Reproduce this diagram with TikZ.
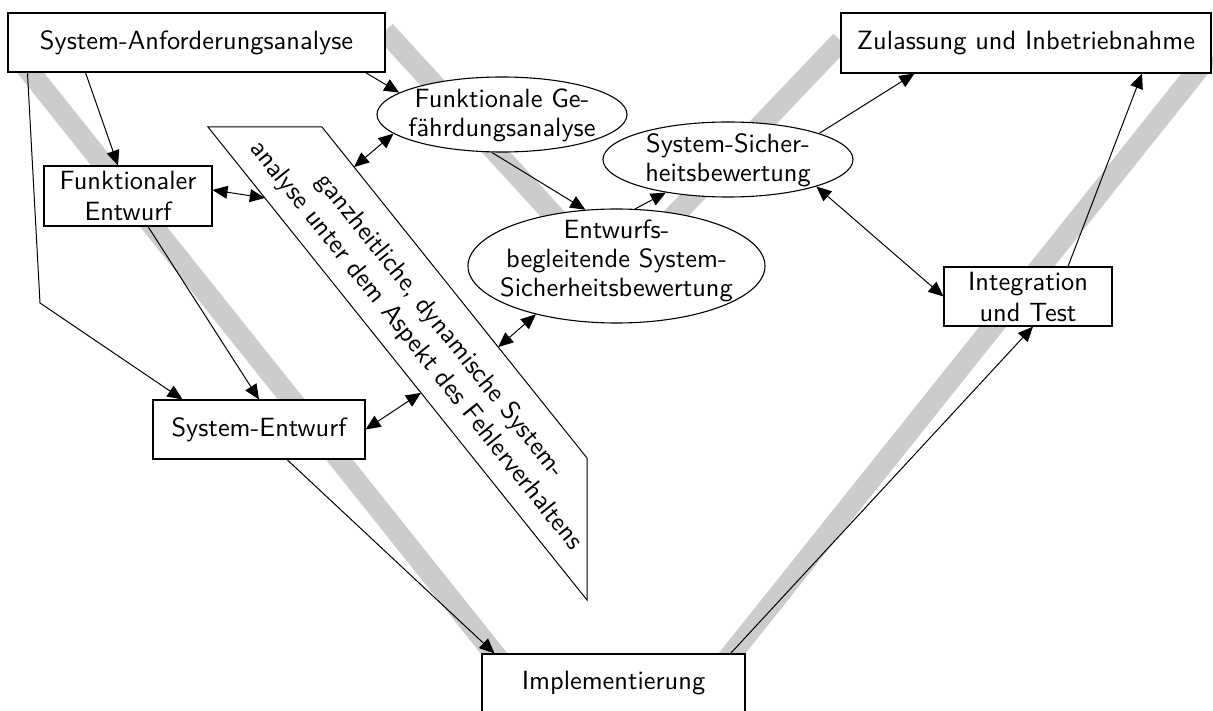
\documentclass[tikz,border=0pt]{standalone}
\usepackage{fontspec}
\usetikzlibrary{arrows.meta,shapes.geometric,calc}
% Latin Modern Sans at its 10pt design size, scaled up
\newfontfamily\lmsten{lmsans10-regular.otf}
\newcommand\dfont{\lmsten\fontsize{26.4}{31}\selectfont}
\newcommand\efont{\lmsten\fontsize{26.4}{29}\selectfont}
\begin{document}
\begin{tikzpicture}[x=1pt,y=-1pt,
  box/.style={draw, line width=1.1pt, fill=white, inner sep=0pt, align=center, font=\dfont},
  oval/.style={ellipse, draw, line width=1.1pt, fill=white, inner sep=0pt},
  dtext/.style={inner sep=0pt, align=center, font=\dfont},
  etext/.style={inner sep=0pt, align=center, font=\efont},
  band/.style={line width=21pt, draw=black!20},
  conn/.style={line width=1pt, -{Triangle[length=15pt,width=13pt]}},
  both/.style={line width=1pt, {Triangle[length=15pt,width=13pt]}-{Triangle[length=15pt,width=13pt]}}]
\useasboundingbox (0,0) rectangle (1213,711);
\clip (0,0) rectangle (1213,711);

% the two grey V-shaped process bands
\draw[band] (16.4,55) -- (613,802.5) -- (1209.6,55);
\draw[band] (385,31) -- (613,280) -- (841,41);

% slanted analysis panel
\coordinate (pA) at (208,127);
\coordinate (pB) at (322,127);
\coordinate (pC) at (587,458);
\coordinate (pD) at (587,600);
\draw[line width=1pt, fill=white] (pA) -- (pB) -- (pC) -- (pD) -- cycle;
\node[dtext, rotate=-51.3] (ptext) at (428,336)
  {ganzheitliche, dynamische System-\\analyse unter dem Aspekt des Fehlerverhaltens};
\coordinate (pfe) at ($(pA)!0.150!(pD)$);
\coordinate (pse) at ($(pA)!0.562!(pD)$);
\coordinate (pfg) at ($(pB)!0.121!(pC)$);
\coordinate (peb) at ($(pB)!0.665!(pC)$);

% process steps
\node[box, minimum width=377pt, minimum height=59pt] (sa) at (196.5,42.5) {System-Anforderungsanalyse};
\node[box, minimum width=168pt, minimum height=60pt] (fe) at (128,196) {Funktionaler\\Entwurf};
\node[box, minimum width=212pt, minimum height=59pt] (se) at (259,429.5) {System-Entwurf};
\node[box, minimum width=263pt, minimum height=59pt] (im) at (613.5,683.5) {Implementierung};
\node[box, minimum width=370pt, minimum height=60pt] (zu) at (1026,43) {Zulassung und Inbetriebnahme};
\node[box, minimum width=168pt, minimum height=59pt] (it) at (1028,296.5) {Integration\\und Test};

% safety activities
\node[oval, minimum width=250pt, minimum height=75pt] (fg) at (502,114.5) {};
\node[etext] (fgt) at (502,115) {Funktionale Ge-\\fährdungsanalyse};
\node[oval, minimum width=250pt, minimum height=75pt] (ss) at (728,159.5) {};
\node[etext] (sst) at (728,160) {System-Sicher-\\heitsbewertung};
\node[oval, minimum width=297pt, minimum height=114pt] (eb) at (616.5,266) {};
\node[etext] (ebt) at (616.5,261) {Entwurfs-\\begleitende System-\\Sicherheitsbewertung};

% connectors
\coordinate (bend) at (40,303);
\draw[conn] ([xshift=78pt]sa.south west) -- ([xshift=-10pt]fe.north);
\draw[conn] ([xshift=20pt]sa.south west) -- (bend) -- ([xshift=30pt]se.north west);
\draw[conn] ([xshift=-20pt]sa.south east) -- (fg.168.6);
\draw[conn] ([xshift=20pt]fe.south) -- (se.north);
\draw[both] ([yshift=6pt]fe.east) -- (pfe);
\draw[both] (fg.190.6) -- (pfg);
\draw[conn] ([xshift=-10pt]fg.south) -- (eb.119.4);
\draw[conn] (eb.72.3) -- (ss.208.7);
\draw[conn] (ss.16.8) -- ([xshift=74pt]zu.south west);
\draw[both] (ss.343.4) -- (it.west);
\draw[conn] ([xshift=40pt]it.north) -- ([xshift=116pt]zu.south);
\draw[conn] ([xshift=-15pt]im.north east) -- ([xshift=5pt]it.south);
\draw[conn] ([xshift=28pt]se.south) -- ([xshift=13pt]im.north west);
\draw[both] (eb.211.5) -- (peb);
\draw[both] (se.east) -- (pse);
\end{tikzpicture}
\end{document}
